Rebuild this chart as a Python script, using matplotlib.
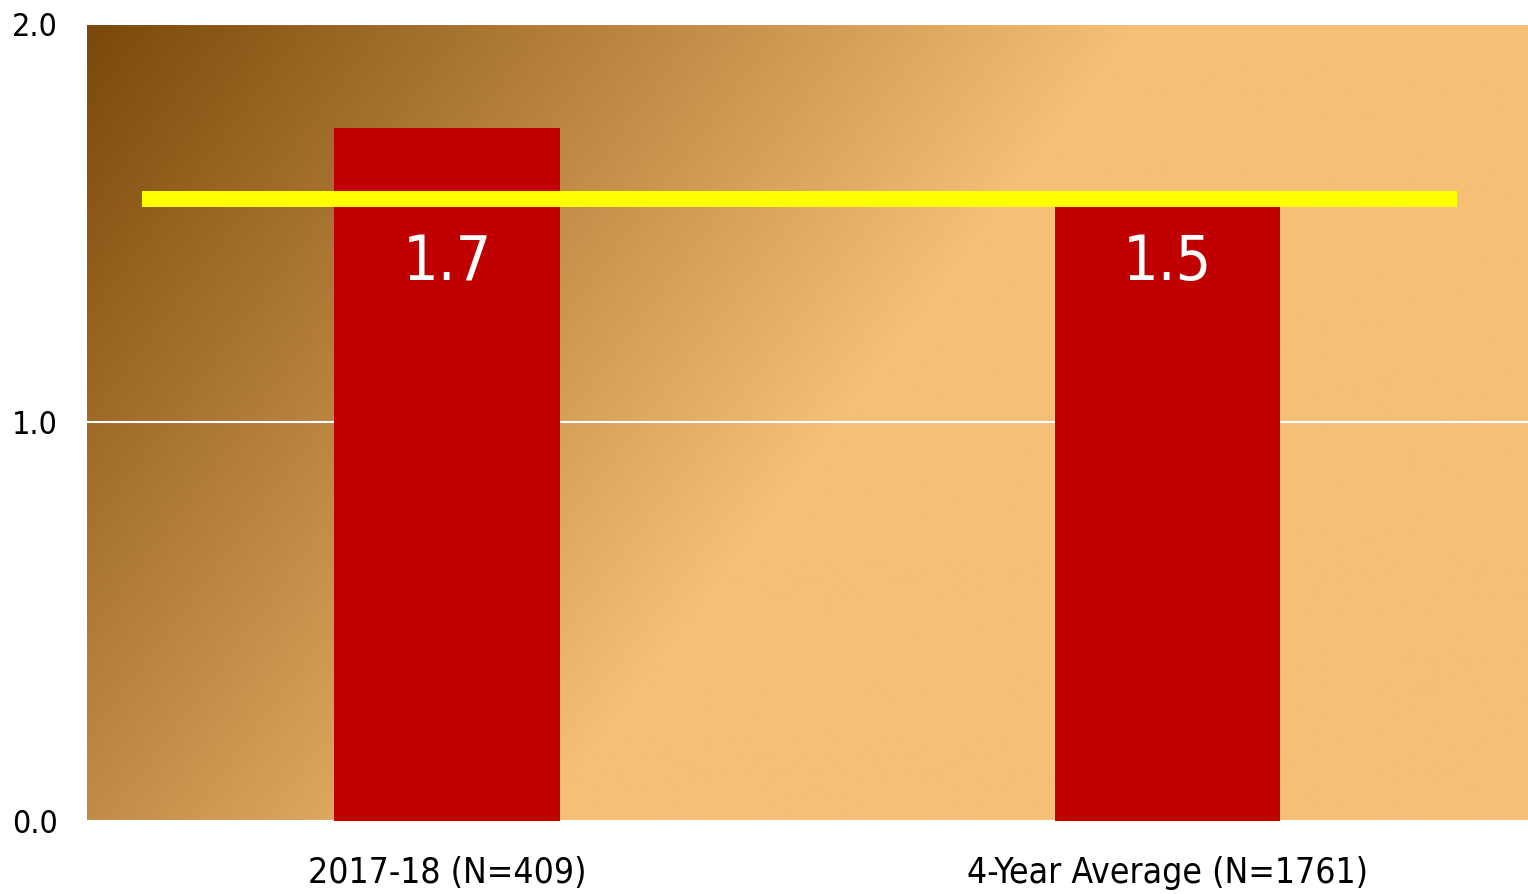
import numpy as np
import matplotlib.pyplot as plt
from matplotlib.colors import LinearSegmentedColormap

categories = ['2017-18 (N=409)', '4-Year Average (N=1761)']
values = [1.74, 1.54]
value_labels = ['1.7', '1.5']
avg_line = 1.56
yticks = [0.0, 1.0, 2.0]

plt.rcParams['font.family'] = ['DejaVu Sans']

fig = plt.figure(figsize=(15.28, 8.94), dpi=100)
ax = fig.add_axes([0.0569, 0.0817, 0.9431, 0.8915])

# diagonal gradient background (dark brown top-left -> light orange)
W, H = 1441, 797
u = np.arange(W)[None, :]
v = np.arange(H)[:, None]
t = np.clip((u + 0.75 * v) / 1050.0, 0, 1)
cmap = LinearSegmentedColormap.from_list('bg', ['#7a4808', '#f6bf76'])
ax.imshow(t, cmap=cmap, vmin=0, vmax=1, extent=[-0.5, 1.5, 0, 2],
          aspect='auto', zorder=0, interpolation='bilinear')

for y in yticks:
    ax.axhline(y, color='white', lw=1.5, zorder=1)

x = np.arange(len(categories))
ax.bar(x, values, width=0.313, color='#c00000', zorder=2)
ax.plot([-0.423, 1.401], [avg_line, avg_line], color='#ffff00', lw=11.5,
        solid_capstyle='butt', zorder=3)

for xi, lab in zip(x, value_labels):
    ax.text(xi, 1.357, lab, ha='center', va='baseline', color='white',
            fontsize=45, fontstretch='condensed', zorder=4)

ax.set_xlim(-0.5, 1.5)
ax.set_ylim(0, 2)
ax.set_xticks(x)
ax.set_xticklabels(categories, fontsize=25.5, fontstretch='condensed')
ax.set_yticks(yticks)
ax.set_yticklabels([f'{y:.1f}' for y in yticks], fontsize=23,
                   fontstretch='condensed')
ax.tick_params(length=0)
ax.tick_params(axis='x', pad=25)
ax.tick_params(axis='y', pad=21)
for s in ax.spines.values():
    s.set_visible(False)

fig.savefig('out.png', dpi=100)
